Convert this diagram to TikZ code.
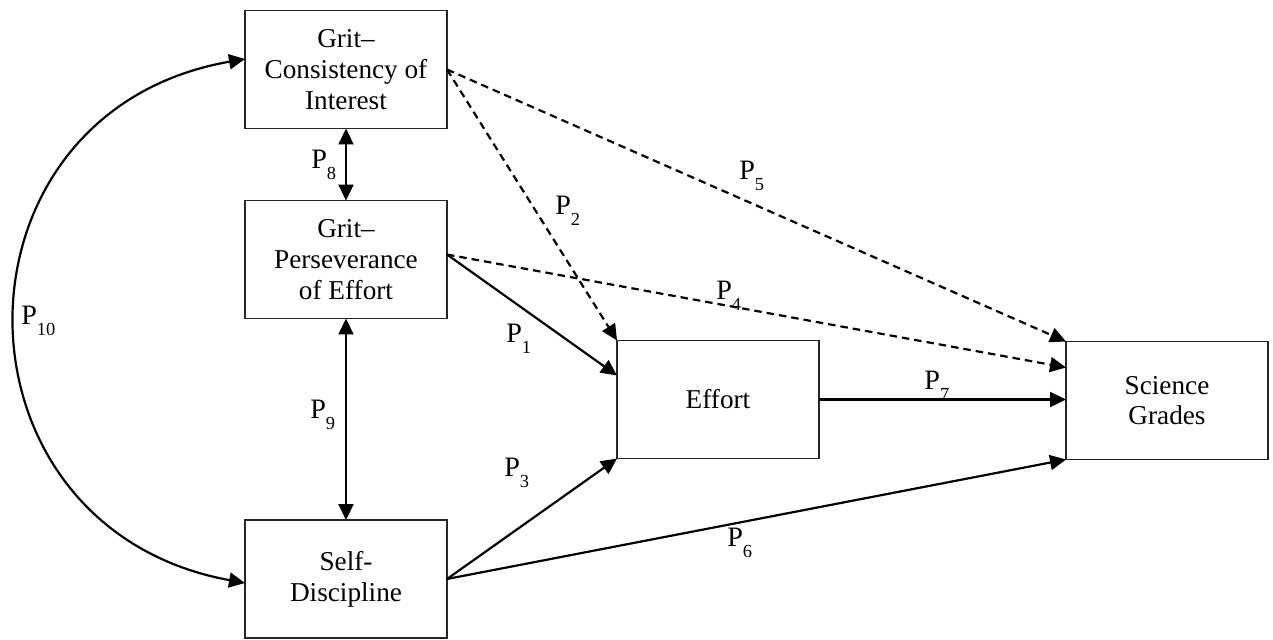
\documentclass[tikz,border=0pt]{standalone}
\usepackage{fontspec}
\setmainfont{Liberation Serif}
\usetikzlibrary{arrows.meta,calc}
\newcommand{\plab}[1]{P\raisebox{-6.5pt}{\fontsize{10.5}{10.5}\selectfont #1}}
\begin{document}
\begin{tikzpicture}[x=0.02cm,y=-0.02cm,
  box/.style={draw=black!85, line width=0.9pt, minimum width=4.04cm, minimum height=2.36cm,
    inner sep=0pt, outer sep=0pt, align=center, font=\fontsize{15.5}{17.5}\selectfont},
  conn/.style={line width=1.25pt, -{Triangle[length=0.32cm,width=0.3cm]}},
  biconn/.style={line width=1.25pt, {Triangle[length=0.32cm,width=0.3cm]}-{Triangle[length=0.32cm,width=0.3cm]}},
  dconn/.style={conn, dash pattern=on 0.15cm off 0.1cm},
  lab/.style={anchor=base west, inner sep=0pt, font=\fontsize{16}{16}\selectfont}]
\useasboundingbox (0,0) rectangle (1273,639);
\node[box] (gc) at (346,69.5) {Grit–\\Consistency of\\Interest};
\node[box] (gp) at (346,259.5) {Grit–\\Perseverance\\of Effort};
\node[box] (sd) at (346,579) {Self-\\Discipline};
\node[box] (ef) at (718,399.5) {Effort};
\node[box] (sg) at (1167,400.5) {Science\\Grades};
% connectors
\draw[biconn] (gc.south) -- (gp.north);
\draw[biconn] (gp.south) -- (sd.north);
\draw[biconn] ($(gc.west)+(0,-10.5)$) .. controls (-60,112) and (-60,527) .. ($(sd.west)+(0,4)$);
\draw[conn] ($(gp.east)+(0,-5)$) -- ($(ef.west)+(0,-24)$);
\draw[dconn] ($(gp.east)+(0,-5)$) -- ($(sg.west)+(0,-33)$);
\draw[dconn] (gc.east) -- (ef.north west);
\draw[dconn] (gc.east) -- (sg.north west);
\draw[conn] (ef.east) -- (ef.east -| sg.west);
\draw[conn] (sd.east) -- (ef.south west);
\draw[conn] (sd.east) -- (sg.south west);
% labels
\node[lab] (l8) at (311,168) {\plab{8}};
\node[lab] (l9) at (310,418) {\plab{9}};
\node[lab] (l10) at (21,324) {\plab{10}};
\node[lab] (l2) at (555,214) {\plab{2}};
\node[lab] (l1) at (506,342) {\plab{1}};
\node[lab] (l5) at (739,179) {\plab{5}};
\node[lab] (l4) at (716,299) {\plab{4}};
\node[lab] (l7) at (924,389) {\plab{7}};
\node[lab] (l3) at (504,476) {\plab{3}};
\node[lab] (l6) at (727,546) {\plab{6}};
\end{tikzpicture}
\end{document}
